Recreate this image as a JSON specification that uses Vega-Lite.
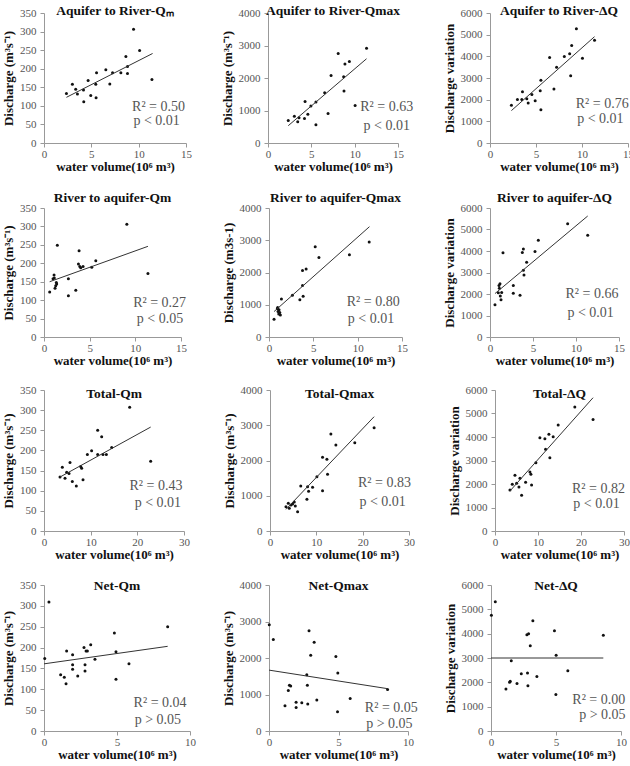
{
"$schema": "https://vega.github.io/schema/vega-lite/v6.json",
"padding": {"left": 2, "top": 3, "right": 0, "bottom": 0},
"background": "white",
"config": {
  "view": {"stroke": null},
  "title": {"font": "Liberation Serif", "fontSize": 13.5, "fontWeight": "bold", "color": "#111", "anchor": "middle", "frame": "group"},
  "text": {"font": "Liberation Serif", "fontSize": 14, "color": "#555", "align": "center", "baseline": "middle"},
  "point": {"filled": true, "size": 9, "color": "#111", "opacity": 1},
  "line": {"color": "#333", "strokeWidth": 1},
  "axis": {"labelFont": "Liberation Serif", "labelFontSize": 11, "labelColor": "#555", "labelOverlap": false, "labelFlush": false, "labelBound": false, "format": "d", "titleFont": "Liberation Serif", "titleFontSize": 13, "titleFontWeight": "bold", "titleColor": "#111", "domainColor": "#999", "tickColor": "#999", "tickSize": 4, "grid": false},
  "axisX": {"labelPadding": 1, "titlePadding": 1},
  "axisY": {"labelPadding": 4, "titlePadding": 4}
},
"spacing": 17,
"vconcat": [
 {"spacing": 29, "hconcat": [
  {"width": 142, "height": 130, "title": {"text": "Aquifer to River-Qₘ", "offset": -10},
   "encoding": {"x": {"type": "quantitative", "scale": {"domain": [0, 15], "nice": false}, "axis": {"values": [0, 5, 10, 15], "title": "water volume(10⁶ m³)"}},
                "y": {"type": "quantitative", "scale": {"domain": [0, 350], "nice": false}, "axis": {"values": [0, 50, 100, 150, 200, 250, 300, 350], "title": "Discharge (m³s⁻¹)"}}},
   "layer": [
    {"data": {"values": [{"x":2.37,"y":133},{"x":3.0,"y":158},{"x":3.35,"y":145},{"x":3.53,"y":132},{"x":4.17,"y":143},{"x":4.2,"y":111},{"x":4.66,"y":168},{"x":4.94,"y":128},{"x":5.47,"y":158},{"x":5.5,"y":122},{"x":5.55,"y":189},{"x":6.53,"y":197},{"x":6.95,"y":159},{"x":7.24,"y":189},{"x":8.12,"y":189},{"x":8.65,"y":233},{"x":8.82,"y":206},{"x":8.82,"y":187},{"x":9.46,"y":306},{"x":10.1,"y":249},{"x":11.4,"y":171}]}, "mark": "point", "encoding": {"x": {"field": "x"}, "y": {"field": "y"}}},
    {"data": {"values": [{"x":2.37,"y":123},{"x":11.47,"y":241}]}, "mark": "line", "encoding": {"x": {"field": "x"}, "y": {"field": "y"}}},
    {"data": {"values": [{}]}, "mark": "text", "encoding": {"x": {"datum": 12.1}, "y": {"datum": 96}, "text": {"value": "R² = 0.50"}}},
    {"data": {"values": [{}]}, "mark": "text", "encoding": {"x": {"datum": 11.9}, "y": {"datum": 58}, "text": {"value": "p < 0.01"}}}
   ]},
  {"width": 130, "height": 130, "title": {"text": "Aquifer to River-Qmax", "offset": -10},
   "encoding": {"x": {"type": "quantitative", "scale": {"domain": [0, 15], "nice": false}, "axis": {"values": [0, 5, 10, 15], "title": "water volume(10⁶ m³)"}},
                "y": {"type": "quantitative", "scale": {"domain": [0, 4000], "nice": false}, "axis": {"values": [0, 1000, 2000, 3000, 4000], "title": "Discharge (m³s⁻¹)"}}},
   "layer": [
    {"data": {"values": [{"x":2.34,"y":693},{"x":3.04,"y":821},{"x":3.43,"y":651},{"x":3.58,"y":779},{"x":4.21,"y":757},{"x":4.28,"y":1280},{"x":4.6,"y":885},{"x":4.95,"y":1141},{"x":5.53,"y":1259},{"x":5.53,"y":565},{"x":6.54,"y":1547},{"x":6.93,"y":907},{"x":7.28,"y":2080},{"x":8.1,"y":2752},{"x":8.77,"y":1600},{"x":8.73,"y":2037},{"x":8.88,"y":2432},{"x":9.39,"y":2507},{"x":10.05,"y":1152},{"x":11.37,"y":2912}]}, "mark": "point", "encoding": {"x": {"field": "x"}, "y": {"field": "y"}}},
    {"data": {"values": [{"x":2.34,"y":533},{"x":11.37,"y":2592}]}, "mark": "line", "encoding": {"x": {"field": "x"}, "y": {"field": "y"}}},
    {"data": {"values": [{}]}, "mark": "text", "encoding": {"x": {"datum": 13.7}, "y": {"datum": 1099}, "text": {"value": "R² = 0.63"}}},
    {"data": {"values": [{}]}, "mark": "text", "encoding": {"x": {"datum": 13.7}, "y": {"datum": 512}, "text": {"value": "p < 0.01"}}}
   ]},
  {"width": 138, "height": 130, "title": {"text": "Aquifer to River-ΔQ", "offset": -10},
   "encoding": {"x": {"type": "quantitative", "scale": {"domain": [0, 15], "nice": false}, "axis": {"values": [0, 5, 10, 15], "title": "water volume(10⁶ m³)"}},
                "y": {"type": "quantitative", "scale": {"domain": [0, 6000], "nice": false}, "axis": {"values": [0, 1000, 2000, 3000, 4000, 5000, 6000], "title": "Discharge variation"}}},
   "layer": [
    {"data": {"values": [{"x":2.33,"y":1738},{"x":2.98,"y":2011},{"x":3.46,"y":2011},{"x":3.53,"y":2365},{"x":4.0,"y":2043},{"x":4.15,"y":1850},{"x":4.55,"y":2236},{"x":4.91,"y":1947},{"x":5.46,"y":2413},{"x":5.53,"y":2896},{"x":5.53,"y":1529},{"x":6.48,"y":3942},{"x":6.95,"y":2494},{"x":7.24,"y":3491},{"x":8.08,"y":3990},{"x":8.66,"y":4119},{"x":8.77,"y":3105},{"x":8.88,"y":4505},{"x":9.39,"y":5277},{"x":10.05,"y":3910},{"x":11.36,"y":4747}]}, "mark": "point", "encoding": {"x": {"field": "x"}, "y": {"field": "y"}}},
    {"data": {"values": [{"x":2.33,"y":1496},{"x":11.36,"y":4907}]}, "mark": "line", "encoding": {"x": {"field": "x"}, "y": {"field": "y"}}},
    {"data": {"values": [{}]}, "mark": "text", "encoding": {"x": {"datum": 12.2}, "y": {"datum": 1818}, "text": {"value": "R² = 0.76"}}},
    {"data": {"values": [{}]}, "mark": "text", "encoding": {"x": {"datum": 12.0}, "y": {"datum": 1094}, "text": {"value": "p < 0.01"}}}
   ]}
 ]},
 {"spacing": 35, "hconcat": [
  {"width": 137, "height": 129, "title": {"text": "River to aquifer-Qm", "offset": -2},
   "encoding": {"x": {"type": "quantitative", "scale": {"domain": [0, 15], "nice": false}, "axis": {"values": [0, 5, 10, 15], "title": "water volume(10⁶ m³)"}},
                "y": {"type": "quantitative", "scale": {"domain": [0, 350], "nice": false}, "axis": {"values": [0, 50, 100, 150, 200, 250, 300, 350], "title": "Discharge (m³s⁻¹)"}}},
   "layer": [
    {"data": {"values": [{"x":0.62,"y":122},{"x":0.99,"y":158},{"x":1.1,"y":168},{"x":1.13,"y":160},{"x":1.21,"y":132},{"x":1.28,"y":139},{"x":1.39,"y":144},{"x":1.46,"y":249},{"x":1.35,"y":148},{"x":2.67,"y":158},{"x":2.67,"y":112},{"x":3.48,"y":127},{"x":3.77,"y":198},{"x":3.84,"y":234},{"x":3.92,"y":191},{"x":4.02,"y":188},{"x":4.28,"y":191},{"x":5.23,"y":189},{"x":5.67,"y":207},{"x":9.07,"y":306},{"x":11.38,"y":172}]}, "mark": "point", "encoding": {"x": {"field": "x"}, "y": {"field": "y"}}},
    {"data": {"values": [{"x":0.62,"y":150},{"x":11.38,"y":246}]}, "mark": "line", "encoding": {"x": {"field": "x"}, "y": {"field": "y"}}},
    {"data": {"values": [{}]}, "mark": "text", "encoding": {"x": {"datum": 12.66}, "y": {"datum": 91}, "text": {"value": "R² = 0.27"}}},
    {"data": {"values": [{}]}, "mark": "text", "encoding": {"x": {"datum": 12.7}, "y": {"datum": 49}, "text": {"value": "p < 0.05"}}}
   ]},
  {"width": 133, "height": 129, "title": {"text": "River to aquifer-Qmax", "offset": -2},
   "encoding": {"x": {"type": "quantitative", "scale": {"domain": [0, 15], "nice": false}, "axis": {"values": [0, 5, 10, 15], "title": "water volume(10⁶ m³)"}},
                "y": {"type": "quantitative", "scale": {"domain": [0, 4000], "nice": false}, "axis": {"values": [0, 1000, 2000, 3000, 4000], "title": "Discharge (m3s-1)"}}},
   "layer": [
    {"data": {"values": [{"x":0.57,"y":547},{"x":0.94,"y":874},{"x":0.98,"y":916},{"x":1.02,"y":789},{"x":1.1,"y":716},{"x":1.13,"y":842},{"x":1.21,"y":758},{"x":1.28,"y":684},{"x":1.4,"y":1179},{"x":2.64,"y":1295},{"x":3.48,"y":1158},{"x":3.78,"y":2063},{"x":3.78,"y":1600},{"x":3.85,"y":1263},{"x":4.19,"y":2105},{"x":5.21,"y":2800},{"x":5.63,"y":2463},{"x":9.07,"y":2547},{"x":11.3,"y":2947}]}, "mark": "point", "encoding": {"x": {"field": "x"}, "y": {"field": "y"}}},
    {"data": {"values": [{"x":0.57,"y":789},{"x":11.33,"y":3421}]}, "mark": "line", "encoding": {"x": {"field": "x"}, "y": {"field": "y"}}},
    {"data": {"values": [{}]}, "mark": "text", "encoding": {"x": {"datum": 11.75}, "y": {"datum": 1074}, "text": {"value": "R² = 0.80"}}},
    {"data": {"values": [{}]}, "mark": "text", "encoding": {"x": {"datum": 11.5}, "y": {"datum": 558}, "text": {"value": "p < 0.01"}}}
   ]},
  {"width": 129, "height": 129, "title": {"text": "River to aquifer-ΔQ", "offset": -2},
   "encoding": {"x": {"type": "quantitative", "scale": {"domain": [0, 15], "nice": false}, "axis": {"values": [0, 5, 10, 15], "title": "water volume(10⁶ m³)"}},
                "y": {"type": "quantitative", "scale": {"domain": [0, 6000], "nice": false}, "axis": {"values": [0, 1000, 2000, 3000, 4000, 5000, 6000], "title": "Discharge variation"}}},
   "layer": [
    {"data": {"values": [{"x":0.58,"y":1504},{"x":0.97,"y":2054},{"x":1.05,"y":2393},{"x":1.09,"y":2264},{"x":1.16,"y":2474},{"x":1.2,"y":1908},{"x":1.28,"y":1730},{"x":1.36,"y":2070},{"x":1.51,"y":3913},{"x":2.71,"y":2393},{"x":2.71,"y":2037},{"x":3.49,"y":1940},{"x":3.76,"y":3929},{"x":3.88,"y":4091},{"x":3.88,"y":3105},{"x":3.95,"y":2878},{"x":4.26,"y":3476},{"x":5.23,"y":3978},{"x":5.62,"y":4495},{"x":9.03,"y":5271},{"x":11.36,"y":4738}]}, "mark": "point", "encoding": {"x": {"field": "x"}, "y": {"field": "y"}}},
    {"data": {"values": [{"x":0.58,"y":2021},{"x":11.36,"y":5627}]}, "mark": "line", "encoding": {"x": {"field": "x"}, "y": {"field": "y"}}},
    {"data": {"values": [{}]}, "mark": "text", "encoding": {"x": {"datum": 11.86}, "y": {"datum": 2021}, "text": {"value": "R² = 0.66"}}},
    {"data": {"values": [{}]}, "mark": "text", "encoding": {"x": {"datum": 11.7}, "y": {"datum": 1100}, "text": {"value": "p < 0.01"}}}
   ]}
 ]},
 {"spacing": 33, "hconcat": [
  {"width": 140, "height": 141, "title": {"text": "Total-Qm", "offset": -16},
   "encoding": {"x": {"type": "quantitative", "scale": {"domain": [0, 30], "nice": false}, "axis": {"values": [0, 10, 20, 30], "title": "water volume(10⁶ m³)"}},
                "y": {"type": "quantitative", "scale": {"domain": [0, 350], "nice": false}, "axis": {"values": [0, 50, 100, 150, 200, 250, 300, 350], "title": "Discharge (m³s⁻¹)"}}},
   "layer": [
    {"data": {"values": [{"x":3.43,"y":134},{"x":3.93,"y":158},{"x":4.5,"y":131},{"x":4.86,"y":146},{"x":5.36,"y":143},{"x":5.57,"y":170},{"x":6.07,"y":123},{"x":6.93,"y":112},{"x":7.86,"y":160},{"x":8.07,"y":156},{"x":8.36,"y":127},{"x":9.29,"y":190},{"x":10.2,"y":199},{"x":11.5,"y":250},{"x":11.5,"y":190},{"x":12.36,"y":234},{"x":12.64,"y":190},{"x":13.36,"y":190},{"x":14.5,"y":207},{"x":18.36,"y":307},{"x":22.86,"y":173}]}, "mark": "point", "encoding": {"x": {"field": "x"}, "y": {"field": "y"}}},
    {"data": {"values": [{"x":3.43,"y":134},{"x":22.86,"y":258}]}, "mark": "line", "encoding": {"x": {"field": "x"}, "y": {"field": "y"}}},
    {"data": {"values": [{}]}, "mark": "text", "encoding": {"x": {"datum": 24.0}, "y": {"datum": 112}, "text": {"value": "R² = 0.43"}}},
    {"data": {"values": [{}]}, "mark": "text", "encoding": {"x": {"datum": 24.4}, "y": {"datum": 70}, "text": {"value": "p < 0.01"}}}
   ]},
  {"width": 139, "height": 141, "title": {"text": "Total-Qmax", "offset": -16},
   "encoding": {"x": {"type": "quantitative", "scale": {"domain": [0, 30], "nice": false}, "axis": {"values": [0, 10, 20, 30], "title": "water volume(10⁶ m³)"}},
                "y": {"type": "quantitative", "scale": {"domain": [0, 4000], "nice": false}, "axis": {"values": [0, 1000, 2000, 3000, 4000], "title": "Discharge (m³s⁻¹)"}}},
   "layer": [
    {"data": {"values": [{"x":3.45,"y":690},{"x":3.95,"y":785},{"x":4.16,"y":643},{"x":4.52,"y":738},{"x":4.88,"y":766},{"x":5.24,"y":823},{"x":5.46,"y":709},{"x":5.96,"y":548},{"x":6.64,"y":1277},{"x":7.97,"y":898},{"x":8.11,"y":1258},{"x":8.33,"y":1125},{"x":9.19,"y":1239},{"x":10.12,"y":1541},{"x":11.34,"y":2090},{"x":11.34,"y":1144},{"x":12.28,"y":2033},{"x":12.42,"y":1608},{"x":13.14,"y":2752},{"x":14.22,"y":2440},{"x":18.3,"y":2506},{"x":22.47,"y":2931}]}, "mark": "point", "encoding": {"x": {"field": "x"}, "y": {"field": "y"}}},
    {"data": {"values": [{"x":3.45,"y":615},{"x":22.47,"y":3243}]}, "mark": "line", "encoding": {"x": {"field": "x"}, "y": {"field": "y"}}},
    {"data": {"values": [{}]}, "mark": "text", "encoding": {"x": {"datum": 24.7}, "y": {"datum": 1371}, "text": {"value": "R² = 0.83"}}},
    {"data": {"values": [{}]}, "mark": "text", "encoding": {"x": {"datum": 24.3}, "y": {"datum": 832}, "text": {"value": "p < 0.01"}}}
   ]},
  {"width": 129, "height": 141, "title": {"text": "Total-ΔQ", "offset": -16},
   "encoding": {"x": {"type": "quantitative", "scale": {"domain": [0, 30], "nice": false}, "axis": {"values": [0, 10, 20, 30], "title": "water volume(10⁶ m³)"}},
                "y": {"type": "quantitative", "scale": {"domain": [0, 6000], "nice": false}, "axis": {"values": [0, 1000, 2000, 3000, 4000, 5000, 6000], "title": "Discharge  variation"}}},
   "layer": [
    {"data": {"values": [{"x":3.48,"y":1744},{"x":4.02,"y":1985},{"x":4.64,"y":2368},{"x":5.03,"y":2028},{"x":5.57,"y":1872},{"x":5.8,"y":2241},{"x":6.19,"y":1517},{"x":7.12,"y":2070},{"x":8.12,"y":2510},{"x":8.35,"y":2411},{"x":8.51,"y":1957},{"x":9.51,"y":2907},{"x":10.44,"y":3970},{"x":11.6,"y":3928},{"x":11.76,"y":3474},{"x":12.53,"y":4112},{"x":12.76,"y":3120},{"x":13.53,"y":4013},{"x":14.69,"y":4509},{"x":18.56,"y":5275},{"x":22.8,"y":4750}]}, "mark": "point", "encoding": {"x": {"field": "x"}, "y": {"field": "y"}}},
    {"data": {"values": [{"x":3.48,"y":1702},{"x":22.8,"y":5672}]}, "mark": "line", "encoding": {"x": {"field": "x"}, "y": {"field": "y"}}},
    {"data": {"values": [{}]}, "mark": "text", "encoding": {"x": {"datum": 24.05}, "y": {"datum": 1801}, "text": {"value": "R² = 0.82"}}},
    {"data": {"values": [{}]}, "mark": "text", "encoding": {"x": {"datum": 23.6}, "y": {"datum": 1163}, "text": {"value": "p < 0.01"}}}
   ]}
 ]},
 {"spacing": 26, "hconcat": [
  {"width": 146, "height": 146, "title": {"text": "Net-Qm", "offset": -13},
   "encoding": {"x": {"type": "quantitative", "scale": {"domain": [0, 10], "nice": false}, "axis": {"values": [0, 5, 10], "title": "water volume(10⁶ m³)"}},
                "y": {"type": "quantitative", "scale": {"domain": [0, 350], "nice": false}, "axis": {"values": [0, 50, 100, 150, 200, 250, 300, 350], "title": "Discharge (m³s⁻¹)"}}},
   "layer": [
    {"data": {"values": [{"x":0.05,"y":174},{"x":0.34,"y":309},{"x":1.14,"y":135},{"x":1.39,"y":129},{"x":1.51,"y":113},{"x":1.55,"y":192},{"x":1.96,"y":183},{"x":1.96,"y":148},{"x":1.96,"y":159},{"x":2.31,"y":132},{"x":2.74,"y":200},{"x":2.81,"y":159},{"x":2.81,"y":144},{"x":2.88,"y":192},{"x":2.97,"y":192},{"x":3.2,"y":207},{"x":3.49,"y":172},{"x":4.82,"y":235},{"x":4.93,"y":190},{"x":4.93,"y":124},{"x":5.82,"y":161},{"x":8.47,"y":250}]}, "mark": "point", "encoding": {"x": {"field": "x"}, "y": {"field": "y"}}},
    {"data": {"values": [{"x":0,"y":161},{"x":8.47,"y":203}]}, "mark": "line", "encoding": {"x": {"field": "x"}, "y": {"field": "y"}}},
    {"data": {"values": [{}]}, "mark": "text", "encoding": {"x": {"datum": 7.95}, "y": {"datum": 68}, "text": {"value": "R² = 0.04"}}},
    {"data": {"values": [{}]}, "mark": "text", "encoding": {"x": {"datum": 7.8}, "y": {"datum": 26}, "text": {"value": "p > 0.05"}}}
   ]},
  {"width": 139, "height": 146, "title": {"text": "Net-Qmax", "offset": -13},
   "encoding": {"x": {"type": "quantitative", "scale": {"domain": [0, 10], "nice": false}, "axis": {"values": [0, 5, 10], "title": "water volume(10⁶ m³)"}},
                "y": {"type": "quantitative", "scale": {"domain": [0, 4000], "nice": false}, "axis": {"values": [0, 1000, 2000, 3000, 4000], "title": "Discharge (m³s⁻¹)"}}},
   "layer": [
    {"data": {"values": [{"x":0.02,"y":2911},{"x":0.31,"y":2506},{"x":1.15,"y":694},{"x":1.39,"y":1108},{"x":1.47,"y":1253},{"x":1.56,"y":1234},{"x":1.95,"y":790},{"x":1.95,"y":646},{"x":2.36,"y":771},{"x":2.72,"y":1542},{"x":2.76,"y":1253},{"x":2.79,"y":742},{"x":2.88,"y":2747},{"x":3.0,"y":2072},{"x":3.25,"y":2429},{"x":3.44,"y":848},{"x":4.81,"y":2043},{"x":4.95,"y":1590},{"x":4.93,"y":530},{"x":5.84,"y":887},{"x":8.53,"y":1137}]}, "mark": "point", "encoding": {"x": {"field": "x"}, "y": {"field": "y"}}},
    {"data": {"values": [{"x":0,"y":1668},{"x":8.53,"y":1160}]}, "mark": "line", "encoding": {"x": {"field": "x"}, "y": {"field": "y"}}},
    {"data": {"values": [{}]}, "mark": "text", "encoding": {"x": {"datum": 8.8}, "y": {"datum": 626}, "text": {"value": "R² = 0.05"}}},
    {"data": {"values": [{}]}, "mark": "text", "encoding": {"x": {"datum": 8.66}, "y": {"datum": 193}, "text": {"value": "p > 0.05"}}}
   ]},
  {"width": 130, "height": 146, "title": {"text": "Net-ΔQ", "offset": -13},
   "encoding": {"x": {"type": "quantitative", "scale": {"domain": [0, 10], "nice": false}, "axis": {"values": [0, 5, 10], "title": "water volume(10⁶ m³)"}},
                "y": {"type": "quantitative", "scale": {"domain": [0, 6000], "nice": false}, "axis": {"values": [0, 1000, 2000, 3000, 4000, 5000, 6000], "title": "Discharge variation"}}},
   "layer": [
    {"data": {"values": [{"x":0.03,"y":4758},{"x":0.33,"y":5316},{"x":1.15,"y":1729},{"x":1.43,"y":2000},{"x":1.48,"y":2043},{"x":1.56,"y":2886},{"x":2.0,"y":1957},{"x":2.33,"y":2357},{"x":2.76,"y":3958},{"x":2.89,"y":4001},{"x":2.81,"y":2386},{"x":2.84,"y":1857},{"x":3.02,"y":3501},{"x":3.22,"y":4529},{"x":3.53,"y":2243},{"x":4.88,"y":4115},{"x":5.01,"y":3115},{"x":4.99,"y":1500},{"x":5.91,"y":2472},{"x":8.64,"y":3930}]}, "mark": "point", "encoding": {"x": {"field": "x"}, "y": {"field": "y"}}},
    {"data": {"values": [{"x":0,"y":3000},{"x":8.64,"y":3000}]}, "mark": "line", "encoding": {"x": {"field": "x"}, "y": {"field": "y"}}},
    {"data": {"values": [{}]}, "mark": "text", "encoding": {"x": {"datum": 8.29}, "y": {"datum": 1286}, "text": {"value": "R² = 0.00"}}},
    {"data": {"values": [{}]}, "mark": "text", "encoding": {"x": {"datum": 8.57}, "y": {"datum": 643}, "text": {"value": "p > 0.05"}}}
   ]}
 ]}
]
}
